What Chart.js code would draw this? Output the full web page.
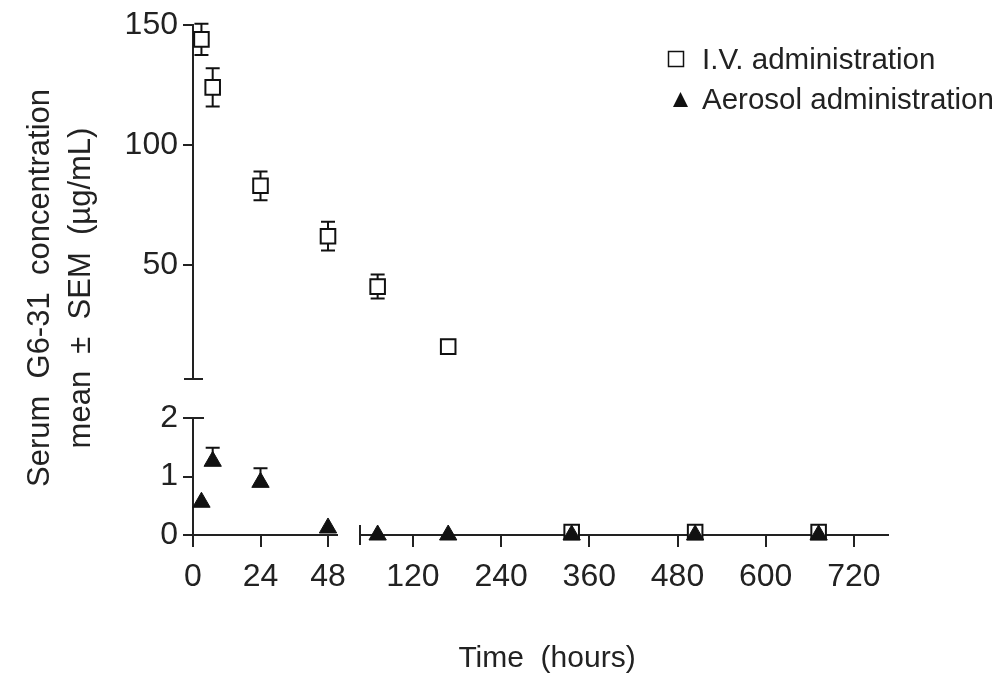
<!DOCTYPE html>
<html lang="en">
<head>
<meta charset="UTF-8">
<title>Serum G6-31 concentration</title>
<script src="https://cdn.jsdelivr.net/npm/chart.js@4.4.1/dist/chart.umd.min.js"></script>
<style>
  html, body { margin: 0; padding: 0; background: #fff; }
</style>
</head>
<body>
<canvas id="chart" width="1008" height="676"></canvas>
<script>
// sampling times (hours after dosing)
const times = [3, 7, 24, 48, 72, 168, 336, 504, 672];
// I.V. administration, mean and SEM in ug/mL
const ivMean = [144, 124, 83, 62, 41, 16, 0.05, 0.05, 0.05];
const ivSem  = [6.5, 8, 6, 6, 5, 2, 0, 0, 0];
// aerosol administration
const aeroMean = [0.56, 1.26, 0.9, 0.12, 0, 0, 0, 0, 0];
const aeroSem  = [0, 0.23, 0.24, 0, 0, 0, 0, 0, 0];

const xLeftTicks  = [0, 24, 48];
const xRightTicks = [120, 240, 360, 480, 600, 720];
const yLowTicks   = [0, 1, 2];
const yHighTicks  = [50, 100, 150];

const xBreak = 48;  // last hour drawn on the left piece of the time axis
const yBreak = 2;   // top of the lower piece of the concentration axis

const ink = '#222';
const fontFamily = '"Liberation Sans", Arial, sans-serif';

// put each point on the right pair of broken axes
function splitSeries(label, mean, sem, style) {
  const groups = {};
  times.forEach((t, i) => {
    const xId = t <= xBreak ? 'xLeft' : 'xRight';
    const yId = mean[i] <= yBreak ? 'yLow' : 'yHigh';
    const key = xId + yId;
    if (!groups[key]) {
      groups[key] = Object.assign({ label, xAxisID: xId, yAxisID: yId, data: [], clip: false, showLine: false }, style);
    }
    groups[key].data.push({ x: t, y: mean[i], sem: sem[i] });
  });
  return Object.values(groups);
}

// errorUp: only the upper whisker is drawn (the lower one hides behind the marker)
const ivStyle = { pointStyle: 'rect', pointRadius: 10.3, pointHoverRadius: 10.3, borderWidth: 2,
  borderColor: '#111', backgroundColor: '#fff', order: 1, errorUp: false };
const aeroStyle = { pointStyle: 'triangle', pointRadius: 10, pointHoverRadius: 10, borderWidth: 1,
  borderColor: '#111', backgroundColor: '#111', order: 0, errorUp: true };

const datasets = splitSeries('I.V. administration', ivMean, ivSem, ivStyle)
  .concat(splitSeries('Aerosol administration', aeroMean, aeroSem, aeroStyle));

function fixedTicks(values) {
  return scale => { scale.ticks = values.map(v => ({ value: v })); };
}

function axis(pos, stack, weight, min, max, tickValues, tickLength, labelPad) {
  const fit = pos === 'left' ? s => { s.width = 100; } : s => { s.height = 70; };
  if (!tickValues) {
    // empty piece that only makes the gap of the broken axis
    return { type: 'linear', position: pos, stack, stackWeight: weight, min, max, afterFit: fit,
      grid: { display: false }, border: { display: false }, ticks: { display: false } };
  }
  return {
    type: 'linear', position: pos, stack, stackWeight: weight, min, max,
    afterBuildTicks: fixedTicks(tickValues),
    afterFit: fit,
    grid: { drawOnChartArea: false, tickLength, color: ink, lineWidth: 2 },
    border: { color: ink, width: 2 },
    ticks: { font: { size: 32 }, color: ink, padding: labelPad, maxRotation: 0, autoSkip: false }
  };
}

const errorBars = {
  id: 'errorBars',
  beforeDatasetsDraw(chart) {
    const ctx = chart.ctx;
    ctx.save();
    ctx.strokeStyle = '#111';
    ctx.lineWidth = 2;
    chart.data.datasets.forEach(ds => {
      const xs = chart.scales[ds.xAxisID];
      const ys = chart.scales[ds.yAxisID];
      ds.data.forEach(p => {
        if (!p.sem) return;
        const x = xs.getPixelForValue(p.x);
        const top = ys.getPixelForValue(p.y + p.sem);
        const bot = ds.errorUp ? ys.getPixelForValue(p.y) : ys.getPixelForValue(p.y - p.sem);
        ctx.beginPath();
        ctx.moveTo(x, top); ctx.lineTo(x, bot);
        ctx.moveTo(x - 7, top); ctx.lineTo(x + 7, top);
        if (!ds.errorUp) {
          ctx.moveTo(x - 7, bot); ctx.lineTo(x + 7, bot);
        }
        ctx.stroke();
      });
    });
    ctx.restore();
  }
};

// axis break caps, axis titles and the legend
const decorations = {
  id: 'decorations',
  afterDraw(chart) {
    const { ctx, scales } = chart;
    const ax = scales.yHigh.right;
    const ay = scales.xLeft.top;
    ctx.save();
    ctx.strokeStyle = ink;
    ctx.lineWidth = 2;
    ctx.beginPath();
    ctx.moveTo(ax - 9, scales.yHigh.bottom); ctx.lineTo(ax + 10, scales.yHigh.bottom);
    ctx.moveTo(ax, scales.yLow.top); ctx.lineTo(ax + 11, scales.yLow.top);
    ctx.moveTo(scales.xRight.left, ay - 10); ctx.lineTo(scales.xRight.left, ay + 10);
    ctx.stroke();

    ctx.fillStyle = ink;
    ctx.font = '30px ' + fontFamily;
    ctx.textAlign = 'center';
    ctx.textBaseline = 'alphabetic';
    ctx.fillText('Time  (hours)', 547, 667);

    ctx.save();
    ctx.translate(60, 288);
    ctx.rotate(-Math.PI / 2);
    ctx.font = '31px ' + fontFamily;
    ctx.textBaseline = 'middle';
    ctx.fillText('Serum  G6-31  concentration', 0, -20);
    ctx.fillText('mean  \u00b1  SEM  (\u00b5g/mL)', 0, 21);
    ctx.restore();

    // legend
    ctx.font = '29.5px ' + fontFamily;
    ctx.textAlign = 'left';
    ctx.textBaseline = 'middle';
    ctx.lineWidth = 1.5;
    ctx.strokeStyle = '#111';
    ctx.strokeRect(668.5, 51.5, 15, 15);
    ctx.fillText(datasets[0].label, 702, 61);
    ctx.fillStyle = '#111';
    ctx.beginPath();
    ctx.moveTo(680.5, 92); ctx.lineTo(688, 107); ctx.lineTo(673, 107);
    ctx.closePath();
    ctx.fill();
    ctx.fillStyle = ink;
    ctx.fillText(datasets[datasets.length - 1].label, 702, 101);
    ctx.restore();
  }
};

Chart.defaults.font.family = fontFamily;

new Chart(document.getElementById('chart'), {
  type: 'scatter',
  data: { datasets },
  options: {
    responsive: false,
    animation: false,
    layout: { padding: { left: 93, right: 120, top: 25, bottom: 71 } },
    plugins: { legend: { display: false }, tooltip: { enabled: false } },
    scales: {
      xLeft:  axis('bottom', 'x', 144, 0, 51.2, xLeftTicks, 12, 11),
      xGap:   axis('bottom', 'x', 23, 0, 1),
      xRight: axis('bottom', 'x', 528, 48, 766.4, xRightTicks, 12, 11),
      yLow:   axis('left', 'y', 117, 0, 2, yLowTicks, 10, 5),
      yGap:   axis('left', 'y', 39, 0, 1),
      yHigh:  axis('left', 'y', 354, 2.5, 150, yHighTicks, 10, 5)
    }
  },
  plugins: [errorBars, decorations]
});
</script>
</body>
</html>
